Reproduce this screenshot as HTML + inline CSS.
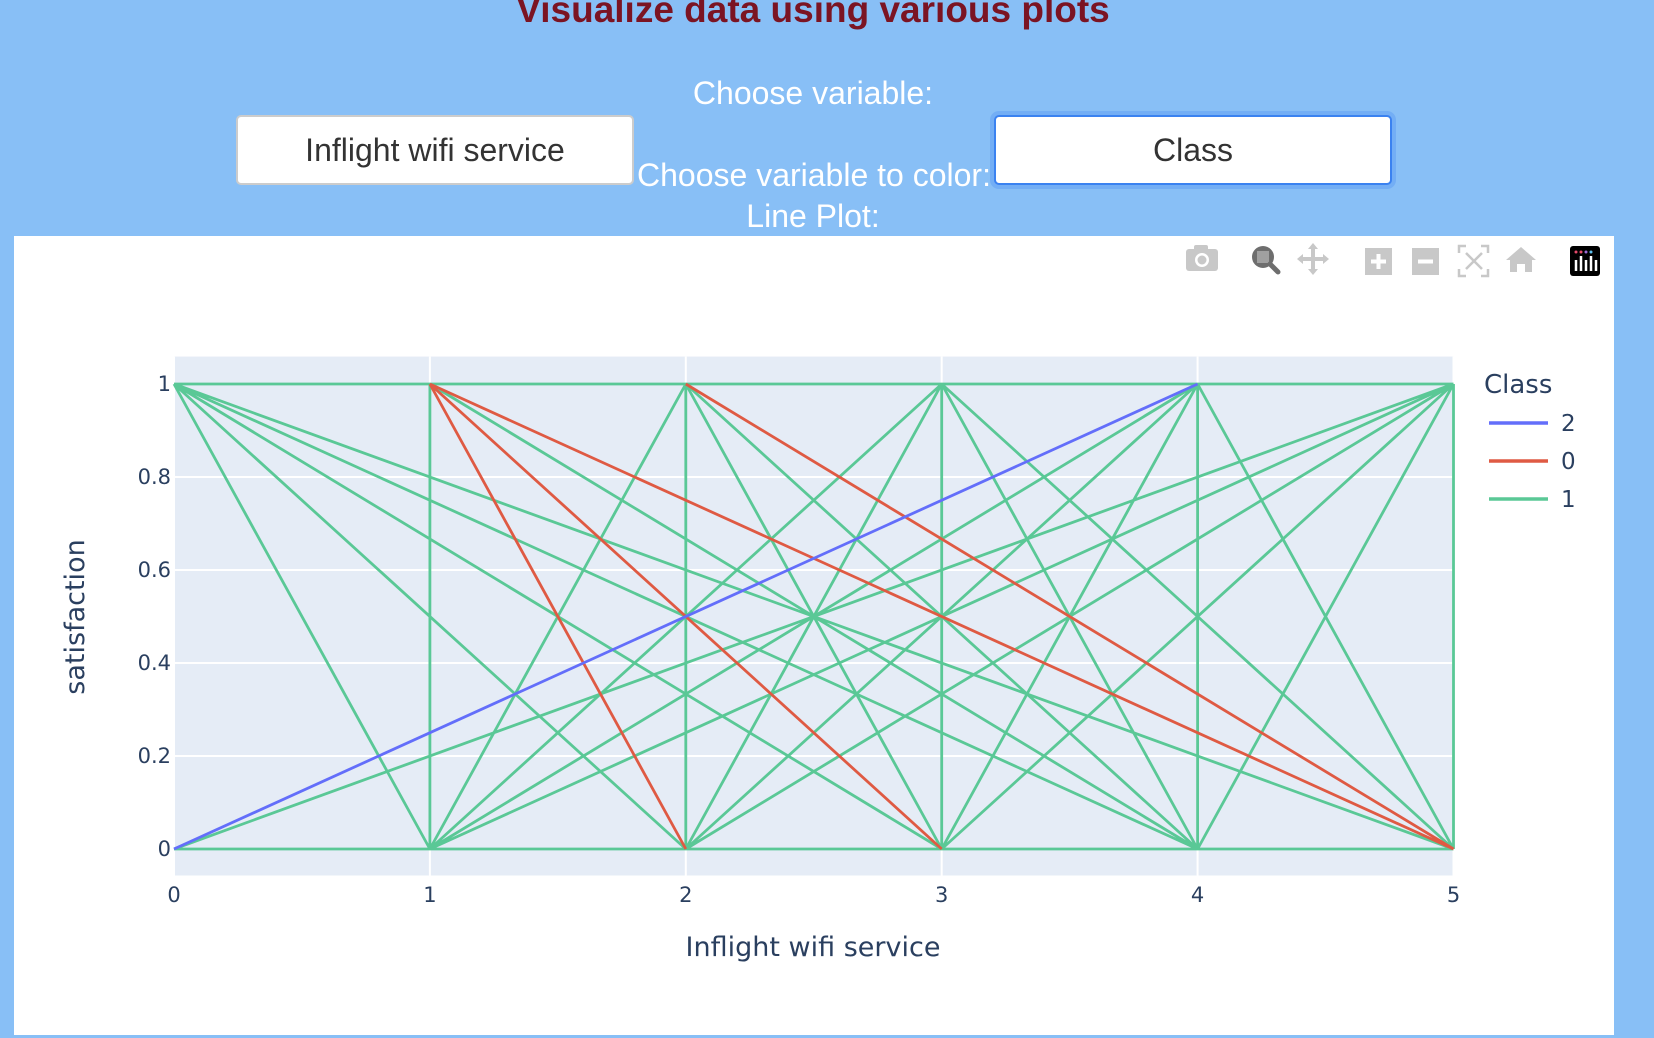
<!DOCTYPE html>
<html><head><meta charset="utf-8">
<style>
html,body{margin:0;padding:0;}
body{width:1654px;height:1038px;background:#88bff6;position:relative;overflow:hidden;font-family:"Liberation Sans",sans-serif;}
.t{position:absolute;white-space:nowrap;}
#title{left:0;width:1626px;text-align:center;top:-11px;font-size:37px;font-weight:bold;color:#7b1423;}
.lbl{color:#fff;font-size:32px;}
.dd{position:absolute;background:#fff;border-radius:5px;font-size:32px;color:#333;text-align:center;box-sizing:border-box;}
#panel{position:absolute;left:14px;top:236px;width:1600px;height:799px;background:#fff;}
</style></head>
<body>
<div id="title" class="t">Visualize data using various plots</div>
<div class="t lbl" style="left:0;width:1626px;text-align:center;top:75px;">Choose variable:</div>
<div class="dd" style="left:236px;top:115px;width:398px;height:70px;line-height:66px;border:2px solid #ccc;">Inflight wifi service</div>
<div class="t lbl" style="left:637px;top:157px;">Choose variable to color:</div>
<div class="dd" style="left:994px;top:115px;width:398px;height:70px;line-height:66px;border:2px solid #3b82f0;box-shadow:0 0 0 4px #73aef5;">Class</div>
<div class="t lbl" style="left:0;width:1626px;text-align:center;top:198px;">Line Plot:</div>
<div id="panel"></div>
<svg id="chart" width="1654" height="1038" style="position:absolute;left:0;top:0" font-family="'DejaVu Sans',sans-serif"></svg>
<script>
// Data: line traces per class (x/y, null = break between segments)
const classNames = ['2','0','1'];
const classColors = ['#636efa','#df5a43','#5ac896'];
const class2X = [0,4];
const class2Y = [0,1];
const class0X = [1,2,null,1,3,null,1,5,null,2,5];
const class0Y = [1,0,null,1,0,null,1,0,null,1,0];
const class1X = [0,5,null,0,5,null,1,1,null,2,2,null,3,3,null,4,4,null,5,5,null,
 0,1,null,0,2,null,0,3,null,0,4,null,0,5,null,0,5,null,
 1,4,null,2,3,null,2,4,null,3,4,null,3,5,null,4,5,null,
 1,2,null,1,3,null,1,4,null,1,5,null,2,3,null,2,4,null,2,5,null,3,4,null,3,5,null,4,5];
const class1Y = [1,1,null,0,0,null,0,1,null,0,1,null,0,1,null,0,1,null,0,1,null,
 1,0,null,1,0,null,1,0,null,1,0,null,1,0,null,0,1,null,
 1,0,null,1,0,null,1,0,null,1,0,null,1,0,null,1,0,null,
 0,1,null,0,1,null,0,1,null,0,1,null,0,1,null,0,1,null,0,1,null,0,1,null,0,1,null,0,1];
const xTicks = [0,1,2,3,4,5];
const yTicks = [0,0.2,0.4,0.6,0.8,1];
const yTickLabels = ['0','0.2','0.4','0.6','0.8','1'];

const NS='http://www.w3.org/2000/svg';
const svg=document.getElementById('chart');
const X0=174,X1=1453.5,Y0=849,Y1=384;
const xs=v=>X0+(X1-X0)*v/5;
const ys=v=>Y0-(Y0-Y1)*v;
function mk(tag,attrs,parent){const e=document.createElementNS(NS,tag);for(const k in attrs)e.setAttribute(k,attrs[k]);(parent||svg).appendChild(e);return e;}

const bg=mk('rect',{x:X0,y:ys(1.059),width:X1-X0,height:ys(-0.057)-ys(1.059),fill:'#e5ecf6'});


yTicks.forEach((v,i)=>{
  const g=mk('line',{x1:X0,x2:X1,y1:ys(v),y2:ys(v),stroke:'#fff','stroke-width':2});
  
  
  const t=mk('text',{x:171,y:ys(v)+7,'text-anchor':'end','font-size':21,fill:'#2a3f5f'});
  t.textContent=yTickLabels[i];
  
  
});
xTicks.forEach(v=>{
  const g=mk('line',{x1:xs(v),x2:xs(v),y1:ys(1.059),y2:ys(-0.057),stroke:'#fff','stroke-width':2});
  
  
  const t=mk('text',{x:xs(v),y:902,'text-anchor':'middle','font-size':21,fill:'#2a3f5f'});
  t.textContent=String(v);
  
  
});
function pathOf(X,Y){let d='',pen=false;for(let i=0;i<X.length;i++){if(X[i]===null){pen=false;continue;}d+=(pen?'L':'M')+xs(X[i]).toFixed(1)+' '+ys(Y[i]).toFixed(1);pen=true;}return d;}
const order=[[class1X,class1Y,2],[class0X,class0Y,1],[class2X,class2Y,0]];
order.forEach(([X,Y,c])=>{
  const p=mk('path',{d:pathOf(X,Y),fill:'none',stroke:classColors[c],'stroke-width':2.8,'stroke-linejoin':'round'});
  
  
});
const xt=mk('text',{x:813,y:956,'text-anchor':'middle','font-size':27,fill:'#2a3f5f'});
xt.textContent='Inflight wifi service';


const yt=mk('text',{x:0,y:0,'text-anchor':'middle','font-size':27,fill:'#2a3f5f',transform:'translate(84,617) rotate(-90)'});
yt.textContent='satisfaction';


// legend
const lt=mk('text',{x:1484,y:393,'font-size':26,fill:'#2a3f5f'});
lt.textContent='Class';


classNames.forEach((n,i)=>{
  const y=423+i*38;
  const l=mk('line',{x1:1489,x2:1548,y1:y,y2:y,stroke:classColors[i],'stroke-width':3.5});
  
  
  const t=mk('text',{x:1561,y:y+8,'font-size':23,fill:'#2a3f5f'});
  t.textContent=n;
  
  
});
</script>
<!-- modebar -->
<svg width="420" height="44" style="position:absolute;left:1180px;top:238px">
 <g fill="#c8c8c8"><rect x="6" y="11" width="32" height="22" rx="3"/><rect x="14" y="7" width="14" height="6" rx="2"/><circle cx="22" cy="22" r="7" fill="#fff"/><circle cx="22" cy="22" r="4.5"/></g>
 <g><circle cx="83" cy="19" r="11" fill="#6e6e6e"/><rect x="77" y="13" width="12" height="12" fill="#fff" opacity=".35"/><line x1="90" y1="26" x2="98" y2="34" stroke="#6e6e6e" stroke-width="5" stroke-linecap="round"/></g>
 <g stroke="#c8c8c8" stroke-width="4" fill="#c8c8c8"><line x1="133" y1="8" x2="133" y2="34"/><line x1="120" y1="21" x2="146" y2="21"/><path d="M133 5l-5 6h10zM133 37l-5-6h10zM117 21l6-5v10zM149 21l-6-5v10z" stroke="none"/></g>
 <g><rect x="185" y="10" width="27" height="27" fill="#c8c8c8"/><path d="M191 23.5h15M198.5 16v15" stroke="#fff" stroke-width="4"/></g>
 <g><rect x="232" y="10" width="27" height="27" fill="#c8c8c8"/><path d="M238 23.5h15" stroke="#fff" stroke-width="4"/></g>
 <g stroke="#c8c8c8" stroke-width="2.5" fill="none"><path d="M279 15v-7h7M301 8h7v7M308 31v7h-7M286 38h-7v-7M286 15l16 16M302 15l-16 16"/></g>
 <g fill="#c8c8c8"><path d="M341 9l15 13h-4v12h-7v-8h-8v8h-7v-12h-4z"/></g>
 <g><rect x="390" y="8" width="30" height="30" rx="3" fill="#000"/><path d="M396 22v11M401 18v15M406 22v11M411 18v15M416 22v11" stroke="#fff" stroke-width="2.5"/><circle cx="396" cy="14" r="1.5" fill="#e64a6b"/><circle cx="401" cy="14" r="1.5" fill="#e64a6b"/><circle cx="406" cy="14" r="1.5" fill="#9d6bd6"/><circle cx="411" cy="14" r="1.5" fill="#5dc0f0"/></g>
</svg>
</body></html>
